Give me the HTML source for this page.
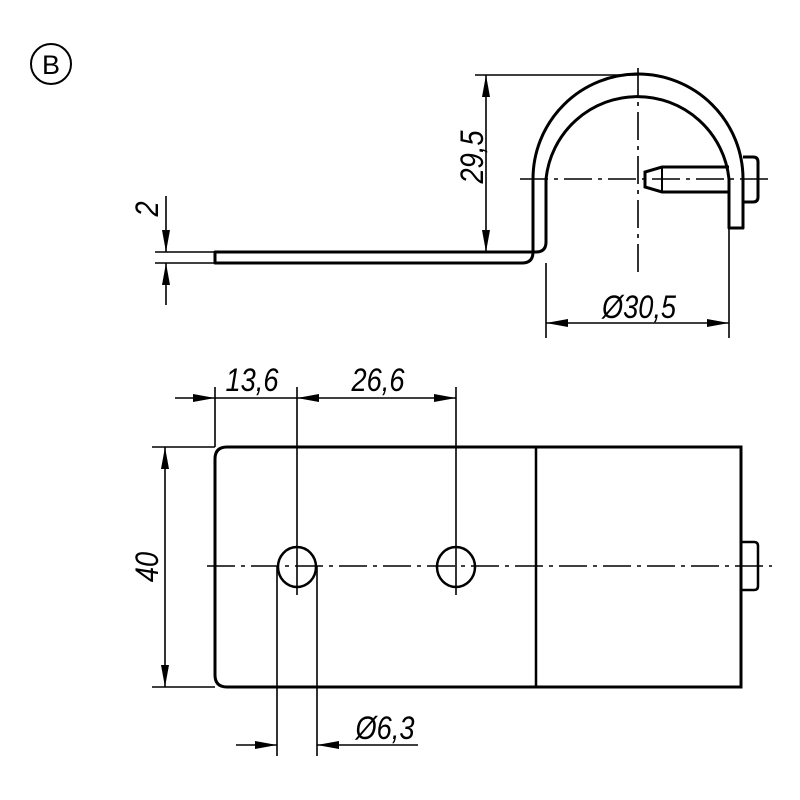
<!DOCTYPE html>
<html><head><meta charset="utf-8"><style>
html,body{margin:0;padding:0;background:#fff;}
svg{display:block;}
text{font-family:"Liberation Sans",sans-serif;font-style:italic;fill:#000;}
</style></head><body>
<svg width="800" height="800" viewBox="0 0 800 800" xmlns="http://www.w3.org/2000/svg">
<defs>
<marker id="a" viewBox="0 0 22 8" refX="22" refY="4" markerWidth="22" markerHeight="8" markerUnits="userSpaceOnUse" orient="auto-start-reverse"><path d="M0,0 L22,4 L0,8 Z" fill="#000"/></marker>
</defs>
<circle cx="51" cy="64" r="20" fill="none" stroke="#000" stroke-width="2"/>
<text x="51" y="74" font-size="27" text-anchor="middle" style="font-style:normal">B</text>

<g fill="none" stroke="#000" stroke-width="3">
<path d="M215,252 H536 Q546,252 546,242 V179 A92,92 0 0 1 729,179 V228 H743 V179 A105,105 0 0 0 533,179 V252 Q533,263 522,263 H215 Z" stroke-linejoin="round"/>
<path d="M743,157 H753 Q758,157 758,162 V197 Q758,202 753,202 H743"/>
<path d="M729,167 H662 L645,172 V187 L662,192 H729"/>
<line x1="662" y1="167" x2="662" y2="192" stroke-width="2"/>
</g>
<g stroke="#000" stroke-width="1.6" fill="none">
<line x1="520" y1="179" x2="772" y2="179" stroke-dasharray="28,6,4,6"/>
<line x1="638" y1="68" x2="638" y2="272" stroke-dasharray="28,6,4,6"/>
<line x1="475" y1="75" x2="638" y2="75"/>
<line x1="486" y1="75" x2="486" y2="252" marker-start="url(#a)" marker-end="url(#a)"/>
<line x1="546" y1="263" x2="546" y2="338"/>
<line x1="729" y1="228" x2="729" y2="338"/>
<line x1="546" y1="323" x2="729" y2="323" marker-start="url(#a)" marker-end="url(#a)"/>
<line x1="155" y1="252" x2="215" y2="252"/>
<line x1="155" y1="263" x2="215" y2="263"/>
<line x1="166" y1="196" x2="166" y2="252" marker-end="url(#a)"/>
<line x1="166" y1="305" x2="166" y2="263" marker-end="url(#a)"/>
</g>
<text x="0" y="0" font-size="32" text-anchor="middle" transform="translate(483,157) rotate(-90) scale(0.85,1)">29,5</text>
<text x="0" y="0" font-size="32" text-anchor="middle" transform="translate(639,318) scale(0.85,1)">Ø30,5</text>
<text x="0" y="0" font-size="32" text-anchor="middle" transform="translate(158,209) rotate(-90) scale(0.85,1)">2</text>

<g fill="none" stroke="#000" stroke-width="3">
<path d="M741,447 H227 Q215,447 215,459 V675 Q215,687 227,687 H741 Z"/>
<line x1="536" y1="447" x2="536" y2="687" stroke-width="2.5"/>
<path d="M741,542 H754 Q758,542 758,546 V586 Q758,590 754,590 H741" stroke-width="2.5"/>
<ellipse cx="297" cy="567" rx="19" ry="20" stroke-width="2.5"/>
<ellipse cx="456" cy="567" rx="19" ry="20" stroke-width="2.5"/>
</g>
<g stroke="#000" stroke-width="1.6" fill="none">
<line x1="207" y1="566" x2="772" y2="566" stroke-dasharray="28,6,4,6"/>
<line x1="215" y1="387" x2="215" y2="447"/>
<line x1="297" y1="387" x2="297" y2="595"/>
<line x1="456" y1="387" x2="456" y2="595"/>
<line x1="175" y1="398" x2="215" y2="398" marker-end="url(#a)"/>
<line x1="215" y1="398" x2="297" y2="398"/>
<line x1="297" y1="398" x2="456" y2="398" marker-start="url(#a)" marker-end="url(#a)"/>
<line x1="152" y1="447" x2="215" y2="447"/>
<line x1="152" y1="687" x2="215" y2="687"/>
<line x1="165" y1="447" x2="165" y2="687" marker-start="url(#a)" marker-end="url(#a)"/>
<line x1="277" y1="566" x2="277" y2="756"/>
<line x1="317" y1="566" x2="317" y2="756"/>
<line x1="236" y1="745" x2="277" y2="745" marker-end="url(#a)"/>
<line x1="418" y1="745" x2="317" y2="745" marker-end="url(#a)"/>
</g>
<text x="0" y="0" font-size="32" text-anchor="middle" transform="translate(252,391) scale(0.85,1)">13,6</text>
<text x="0" y="0" font-size="32" text-anchor="middle" transform="translate(378,391) scale(0.85,1)">26,6</text>
<text x="0" y="0" font-size="32" text-anchor="middle" transform="translate(158,567) rotate(-90) scale(0.85,1)">40</text>
<text x="0" y="0" font-size="32" text-anchor="middle" transform="translate(385,739) scale(0.85,1)">Ø6,3</text>
</svg>
</body></html>
